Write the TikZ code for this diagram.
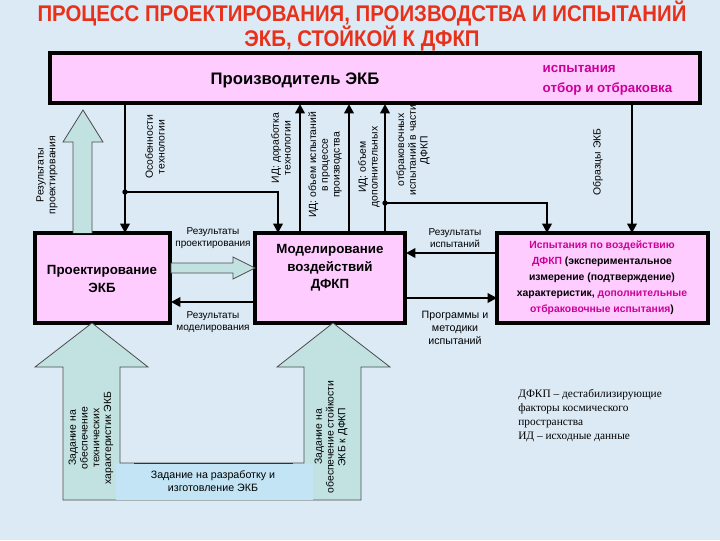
\documentclass[tikz,border=0pt]{standalone}
\usepackage{fontspec}
\setmainfont{Liberation Sans}
\newfontfamily\serifnote{Liberation Serif}
\usetikzlibrary{arrows.meta}
\definecolor{bg}{HTML}{DCEAF5}
\definecolor{boxpink}{HTML}{FFCCFF}
\definecolor{mag}{HTML}{CC0099}
\definecolor{ttl}{HTML}{E8301A}
\definecolor{fat}{HTML}{C2E2E2}
\definecolor{band}{HTML}{C2E4F4}
\begin{document}
\begin{tikzpicture}[x=0.75pt,y=-0.75pt,
  box/.style={draw=black,line width=3pt,fill=boxpink},
  con/.style={line width=2.2pt,-{Triangle[length=7pt,width=7pt]}},
  line/.style={line width=2.2pt},
  fatarr/.style={draw=black!70,line width=0.6pt,fill=fat},
  lbl/.style={font=\fontsize{7.5}{8.5}\selectfont,align=center,inner sep=0pt},
  rlbl/.style={lbl,font=\fontsize{7.8}{8.8}\selectfont,rotate=90}]
\fill[bg] (0,0) rectangle (720,540);
\useasboundingbox (0,0) rectangle (720,540);
% title
\node[font=\fontsize{17}{18}\selectfont\bfseries,text=ttl,align=center,inner sep=0pt] (title) at (362,26)
 {\scalebox{0.9}[1]{ПРОЦЕСС ПРОЕКТИРОВАНИЯ, ПРОИЗВОДСТВА И ИСПЫТАНИЙ}\\[-1pt]\scalebox{0.9}[1]{ЭКБ, СТОЙКОЙ К ДФКП}};
% boxes
\draw[box] (50,53) rectangle (700,103);
\node[font=\fontsize{12.5}{14}\selectfont\bfseries] (prod) at (295,80) {Производитель ЭКБ};
\node[font=\fontsize{10}{15}\selectfont\bfseries,text=mag,align=left,anchor=west] (isp) at (538,80) {испытания\\отбор и отбраковка};
\draw[box] (35,233) rectangle (170,323);
\node[font=\fontsize{10}{13}\selectfont\bfseries,align=center] (proj) at (102,279) {Проектирование\\ЭКБ};
\draw[box] (255,233) rectangle (405,323);
\node[font=\fontsize{10}{13}\selectfont\bfseries,align=center] (mod) at (330,268) {Моделирование\\воздействий\\ДФКП};
\draw[box] (497,233) rectangle (708,323);
\node[font=\fontsize{7.8}{12}\selectfont\bfseries,align=center] (test) at (602,278)
 {\textcolor{mag}{Испытания по воздействию}\\
  \textcolor{mag}{ДФКП} (экспериментальное\\
  измерение (подтверждение)\\
  характеристик, \textcolor{mag}{дополнительные}\\
  \textcolor{mag}{отбраковочные испытания})};
% fat arrow up left
\draw[fatarr] (73,233)--(73,142)--(63,142)--(83,110)--(103,142)--(92,142)--(92,233);
\node[rlbl] (l1) at (47,175) {Результаты\\проектирования};
% Особенности технологии
\coordinate (b1) at (125,192);
\draw[con] (125,104) -- (125,233);
\draw[con] (b1) -- (278,192) -- (278,233);
\fill (b1) circle (2pt);
\node[rlbl] (l2) at (155,147) {Особенности\\технологии};
% ИД arrows up
\draw[con] (300,233) -- (300,104);
\node[rlbl] (l3) at (281,148) {ИД: доработка\\технологии};
\draw[con] (349,233) -- (349,104);
\node[rlbl] (l4) at (325,165) {ИД: объем испытаний\\в процессе\\производства};
\draw[con] (385,233) -- (385,104);
\coordinate (b2) at (385,203);
\draw[con] (b2) -- (547,203) -- (547,233);
\fill (b2) circle (2pt);
\node[rlbl] (l5) at (369,167) {ИД: объем\\дополнительных};
\node[rlbl] (l6) at (413,150) {отбраковочных\\испытаний в части\\ДФКП};
% Образцы
\draw[con] (632,104) -- (632,233);
\node[rlbl] (l7) at (598,162) {Образцы ЭКБ};
% horizontal fat arrow
\draw[fatarr] (171,263)--(233,263)--(233,257)--(255,268)--(233,279)--(233,273)--(171,273)--cycle;
\node[lbl] (l8) at (213,238) {Результаты\\проектирования};
\draw[con] (255,302) -- (171,302);
\node[lbl] (l9) at (213,322) {Результаты\\моделирования};
\draw[con] (497,253) -- (406,253);
\node[lbl] (l10) at (455,238) {Результаты\\испытаний};
\draw[con] (406,298) -- (497,298);
\node[lbl,font=\fontsize{8}{10}\selectfont] (l11) at (455,328) {Программы и\\методики\\испытаний};
% bottom U arrow
\draw[fatarr] (63,500)--(63,367)--(35,367)--(92,323)--(148,367)--(120,367)--(120,463)--(304,463)--(304,367)--(277,367)--(333,323)--(390,367)--(361,367)--(361,500)--cycle;
\fill[band] (116,464) rectangle (313,499.5);
\draw[black!80,line width=0.6pt] (134,463) -- (293,463);
\node[lbl,font=\fontsize{8}{10}\selectfont] (l12) at (213,481) {Задание на разработку и\\изготовление ЭКБ};
\node[rlbl] (l13) at (91,438) {Задание на\\обеспечение\\технических\\характеристик ЭКБ};
\node[rlbl] (l14) at (331,437) {Задание на\\обеспечение стойкости\\ЭКБ к ДФКП};
% note
\node[font=\serifnote\fontsize{8.5}{10.5}\selectfont,align=left,anchor=north west,inner sep=0pt] (note) at (518,389)
 {ДФКП – дестабилизирующие\\факторы космического\\пространства\\ИД – исходные данные};
\end{tikzpicture}
\end{document}
